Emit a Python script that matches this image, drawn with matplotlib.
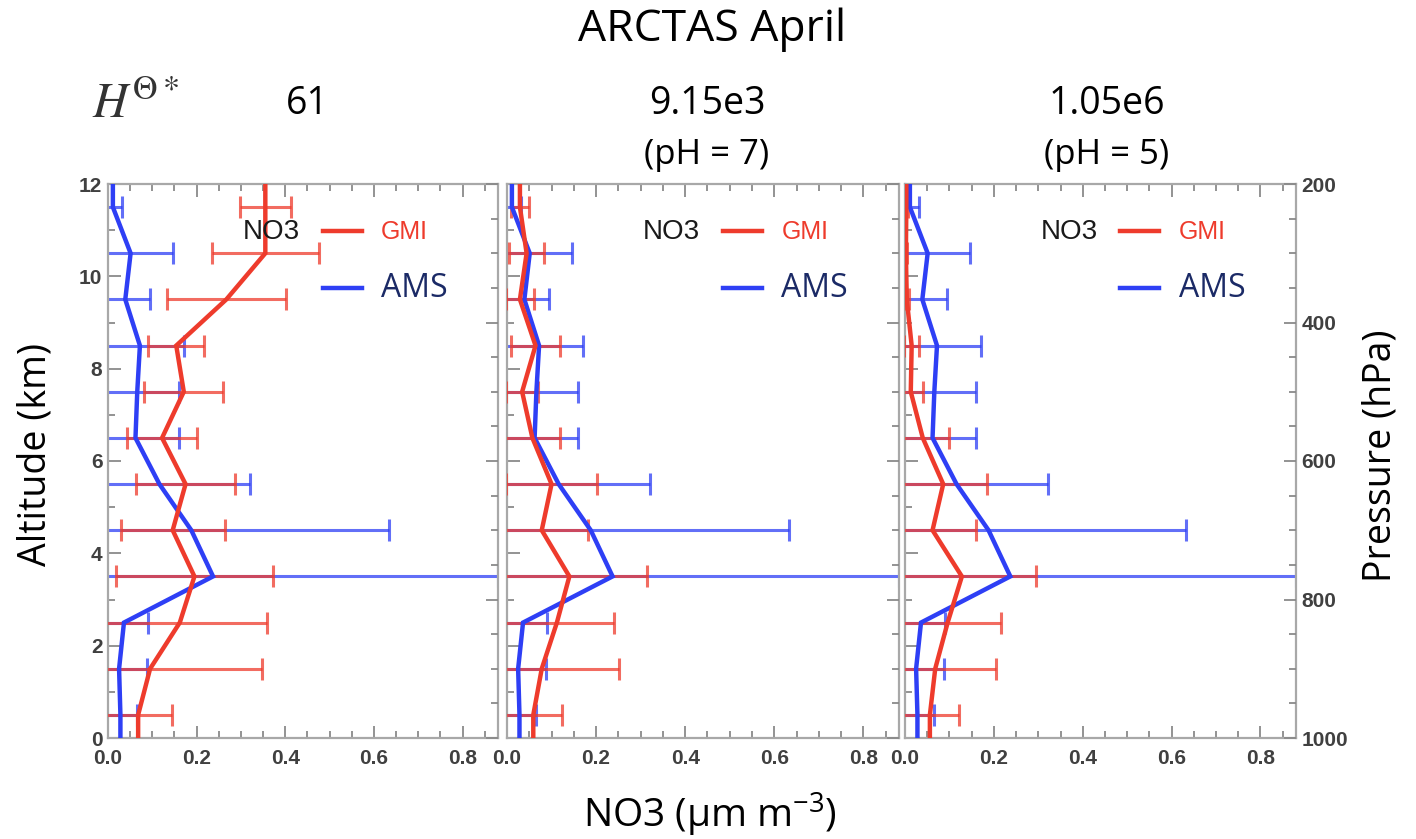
import numpy as np
import matplotlib
matplotlib.use("Agg")
import matplotlib.pyplot as plt
from matplotlib.ticker import MultipleLocator

plt.rcParams['mathtext.fontset'] = 'custom'
plt.rcParams['mathtext.rm'] = 'Open Sans'
plt.rcParams['mathtext.it'] = 'Open Sans:italic'

# ---------------- data ----------------
altitude_km = [0.5, 1.5, 2.5, 3.5, 4.5, 5.5, 6.5, 7.5, 8.5, 9.5, 10.5, 11.5]

ams_mean = [0.028, 0.025, 0.036, 0.237, 0.188, 0.116, 0.062, 0.066, 0.072, 0.039, 0.051, 0.011]
ams_std = [0.037, 0.063, 0.054, 0.642, 0.445, 0.205, 0.098, 0.094, 0.099, 0.056, 0.095, 0.021]

gmi_61_mean = [0.068, 0.095, 0.162, 0.195, 0.146, 0.175, 0.122, 0.171, 0.154, 0.267, 0.355, 0.355]
gmi_61_std = [0.076, 0.253, 0.196, 0.178, 0.117, 0.112, 0.079, 0.089, 0.063, 0.135, 0.121, 0.057]

gmi_ph7_mean = [0.059, 0.078, 0.112, 0.140, 0.078, 0.100, 0.057, 0.034, 0.064, 0.029, 0.044, 0.029]
gmi_ph7_std = [0.065, 0.174, 0.129, 0.174, 0.103, 0.103, 0.062, 0.036, 0.055, 0.032, 0.040, 0.021]

gmi_ph5_mean = [0.056, 0.068, 0.096, 0.128, 0.062, 0.086, 0.040, 0.013, 0.015, 0.004, 0.002, 0.003]
gmi_ph5_std = [0.066, 0.137, 0.119, 0.167, 0.097, 0.098, 0.058, 0.027, 0.017, 0.004, 0.003, 0.003]

panel_values = ["61", "9.15e3", "1.05e6"]
panel_ph = ["", "(pH = 7)", "(pH = 5)"]
gmi_means = [gmi_61_mean, gmi_ph7_mean, gmi_ph5_mean]
gmi_stds = [gmi_61_std, gmi_ph7_std, gmi_ph5_std]

x_ticks = [0.0, 0.2, 0.4, 0.6, 0.8]
x_ticklabels = ["0.0", "0.2", "0.4", "0.6", "0.8"]
alt_ticks = [0, 2, 4, 6, 8, 10, 12]
p_ticks = [200, 400, 600, 800, 1000]

# ---------------- style ----------------
W, H = 1416, 839
RED = '#EE3B2C'
BLUE = '#2E3FF5'
NAVY = '#1B2A66'
FRAME = '#A8A8A8'
TICKC = '#8A8A8A'
TXT = 'Open Sans'
HELV = 'Liberation Sans'
LABC = '#404040'

fig = plt.figure(figsize=(W / 100, H / 100), dpi=100)

def fx(px):
    return px / W

def fy(py):
    return 1 - py / H

panel_lr = [(108, 498), (507, 899), (905, 1296)]
top_px, bot_px = 184, 738

for i, (l, r) in enumerate(panel_lr):
    ax = fig.add_axes([fx(l), fy(bot_px), (r - l) / W, (bot_px - top_px) / H])
    ax.set_xlim(0, 0.88)
    ax.set_ylim(0, 12)

    alt = np.asarray(altitude_km)
    yline = np.concatenate([[0], alt, [12]])

    gm = np.asarray(gmi_means[i])
    gs = np.asarray(gmi_stds[i])
    am = np.asarray(ams_mean)
    asd = np.asarray(ams_std)

    ax.errorbar(am, alt, xerr=asd, fmt='none', ecolor=BLUE, elinewidth=2.2,
                capsize=8, capthick=2.2, alpha=0.75, zorder=2)
    ax.errorbar(gm, alt, xerr=gs, fmt='none', ecolor=RED, elinewidth=2.2,
                capsize=8, capthick=2.2, alpha=0.75, zorder=3)
    ax.plot(np.concatenate([[am[0]], am, [am[-1]]]), yline, color=BLUE, lw=3.2,
            zorder=4, solid_joinstyle='miter')
    ax.plot(np.concatenate([[gm[0]], gm, [gm[-1]]]), yline, color=RED, lw=3.2,
            zorder=5, solid_joinstyle='miter')

    # axes styling
    for s in ax.spines.values():
        s.set_color(FRAME)
        s.set_linewidth(1.6)
    ax.set_xticks(x_ticks)
    ax.set_xticklabels(x_ticklabels)
    ax.xaxis.set_minor_locator(MultipleLocator(0.05))
    ax.set_yticks(alt_ticks)
    ax.yaxis.set_minor_locator(MultipleLocator(1))
    ax.tick_params(axis='both', which='both', direction='in', top=True,
                   right=False, color=TICKC, width=1.3)
    ax.tick_params(axis='both', which='major', length=9)
    ax.tick_params(axis='both', which='minor', length=5)
    ax.tick_params(axis='x', labelsize=15, labelcolor=LABC, pad=8)
    ax.tick_params(axis='y', labelsize=15, labelcolor=LABC, pad=4)
    for lab in ax.get_xticklabels() + ax.get_yticklabels():
        lab.set_fontfamily(HELV)
        lab.set_fontweight('bold')
    if i > 0:
        ax.tick_params(axis='y', labelleft=False)

    # pressure axis
    ax2 = ax.twinx()
    ax2.set_ylim(1000, 200)
    ax2.set_yticks(p_ticks)
    ax2.yaxis.set_minor_locator(MultipleLocator(50))
    ax2.tick_params(axis='y', which='both', direction='in', color=TICKC, width=1.3)
    ax2.tick_params(axis='y', which='major', length=9, labelsize=15,
                    labelcolor=LABC, pad=4)
    ax2.tick_params(axis='y', which='minor', length=5)
    for s in ax2.spines.values():
        s.set_visible(False)
    for lab in ax2.get_yticklabels():
        lab.set_fontfamily(HELV)
        lab.set_fontweight('bold')
    if i < 2:
        ax2.tick_params(axis='y', labelright=False)

    # in-panel legend
    ax.text(0.42, 0.914, 'NO3', transform=ax.transAxes, ha='center', va='center',
            fontsize=20, family=HELV, color='#1A1A1A', zorder=6)
    ax.plot([0.55, 0.65], [0.916, 0.916], transform=ax.transAxes, color=RED, lw=3.2,
            zorder=6)
    ax.text(0.70, 0.914, 'GMI', transform=ax.transAxes, ha='left', va='center',
            fontsize=18, family=HELV, color=RED, zorder=6)
    ax.plot([0.55, 0.65], [0.813, 0.813], transform=ax.transAxes, color=BLUE, lw=3.2,
            zorder=6)
    ax.text(0.70, 0.811, 'AMS', transform=ax.transAxes, ha='left', va='center',
            fontsize=23, family=TXT, color=NAVY, zorder=6)

# ---------------- figure text ----------------
fig.text(fx(712), fy(30), 'ARCTAS April', ha='center', va='center', fontsize=32,
         family=TXT, color='black')
fig.text(fx(136), fy(104), r'$H^{\Theta *}$', ha='center', va='center', fontsize=35,
         color='#333333', math_fontfamily='stix')
centers = [307, 707, 1107]
for c, v, p in zip(centers, panel_values, panel_ph):
    fig.text(fx(c), fy(104), v, ha='center', va='center', fontsize=27, family=TXT)
    if p:
        fig.text(fx(c), fy(155), p, ha='center', va='center', fontsize=25, family=TXT)

fig.text(fx(36), fy(455), 'Altitude (km)', rotation=90, ha='center', va='center',
         fontsize=27, family=TXT)
fig.text(fx(1381), fy(456), 'Pressure (hPa)', rotation=90, ha='center', va='center',
         fontsize=27, family=TXT)
fig.text(fx(710), fy(815), r'NO3 (μm m$^{-3}$)', ha='center', va='center',
         fontsize=28, family=TXT)

fig.savefig('out.png', dpi=100)
